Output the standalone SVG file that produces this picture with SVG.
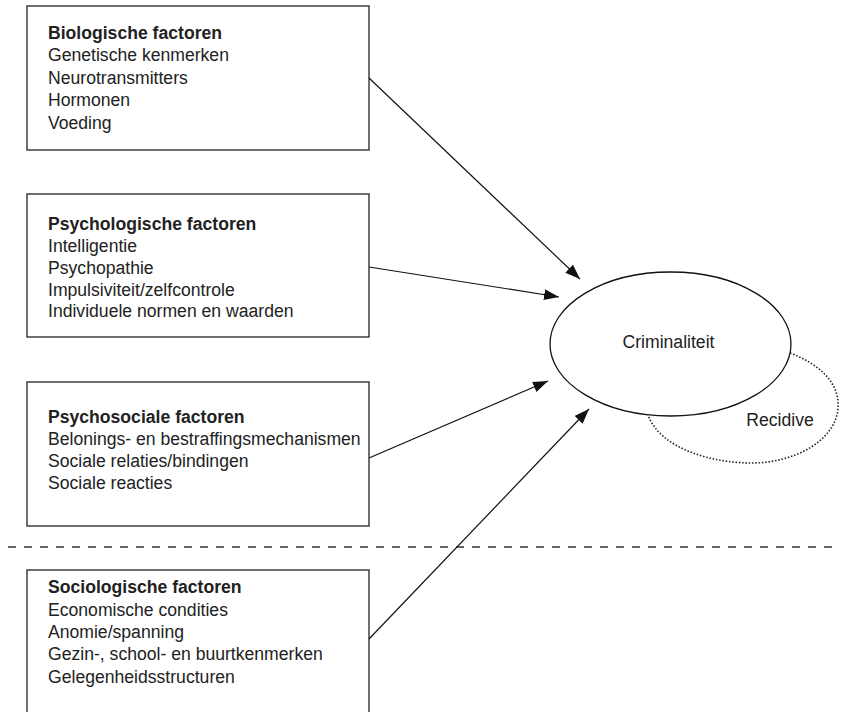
<svg xmlns="http://www.w3.org/2000/svg" width="841" height="712" viewBox="0 0 841 712">
<defs>
<style>
.box{fill:#fff;stroke:#222;stroke-width:1.3}
.t{font-family:"Liberation Sans",Arial,sans-serif;font-size:17.6px;fill:#222}
.b{font-weight:bold}
.conn{stroke:#111;stroke-width:1.2;fill:none}
</style>
<marker id="ah" markerUnits="userSpaceOnUse" markerWidth="16" markerHeight="12" refX="15" refY="5.5" orient="auto">
<path d="M0,0 L15,5.5 L0,11 z" fill="#111"/>
</marker>
</defs>
<rect width="841" height="712" fill="#fff"/>
<line x1="8" y1="547" x2="834" y2="547" stroke="#333" stroke-width="1.3" stroke-dasharray="8 8"/>
<g id="bio">
<rect class="box" x="27" y="6" width="342" height="144"/>
<text class="t b" x="48" y="38.5">Biologische factoren</text>
<text class="t" x="48" y="61">Genetische kenmerken</text>
<text class="t" x="48" y="83.5">Neurotransmitters</text>
<text class="t" x="48" y="106">Hormonen</text>
<text class="t" x="48" y="128.5">Voeding</text>
</g>
<g id="psych">
<rect class="box" x="27" y="194" width="342" height="143"/>
<text class="t b" x="48" y="230">Psychologische factoren</text>
<text class="t" x="48" y="252">Intelligentie</text>
<text class="t" x="48" y="274">Psychopathie</text>
<text class="t" x="48" y="295.5">Impulsiviteit/zelfcontrole</text>
<text class="t" x="48" y="317">Individuele normen en waarden</text>
</g>
<g id="psychosoc">
<rect class="box" x="27" y="382" width="342" height="144"/>
<text class="t b" x="48" y="423">Psychosociale factoren</text>
<text class="t" x="48" y="445">Belonings- en bestraffingsmechanismen</text>
<text class="t" x="48" y="467">Sociale relaties/bindingen</text>
<text class="t" x="48" y="489">Sociale reacties</text>
</g>
<g id="socio">
<rect class="box" x="27" y="570" width="342" height="160"/>
<text class="t b" x="48" y="593">Sociologische factoren</text>
<text class="t" x="48" y="616">Economische condities</text>
<text class="t" x="48" y="638">Anomie/spanning</text>
<text class="t" x="48" y="660">Gezin-, school- en buurtkenmerken</text>
<text class="t" x="48" y="683">Gelegenheidsstructuren</text>
</g>
<g id="recidive">
<path d="M790,353 C822,365 840,385 838,408 C836,440 795,463 752,463 C710,463 660,448 648,415" fill="none" stroke="#222" stroke-width="1.6" stroke-dasharray="1.5 1.8" />
<text class="t" x="780" y="426" text-anchor="middle">Recidive</text>
</g>
<g id="crim">
<ellipse cx="670.5" cy="344" rx="120.5" ry="72" fill="#fff" stroke="#111" stroke-width="1.3"/>
<text class="t" x="668.5" y="348" text-anchor="middle">Criminaliteit</text>
</g>
<g id="connectors">
<line class="conn" x1="369" y1="78" x2="580" y2="279" marker-end="url(#ah)"/>
<line class="conn" x1="369" y1="267" x2="559" y2="297" marker-end="url(#ah)"/>
<line class="conn" x1="369" y1="458" x2="548" y2="381" marker-end="url(#ah)"/>
<line class="conn" x1="369" y1="639" x2="589" y2="409" marker-end="url(#ah)"/>
</g>
</svg>
